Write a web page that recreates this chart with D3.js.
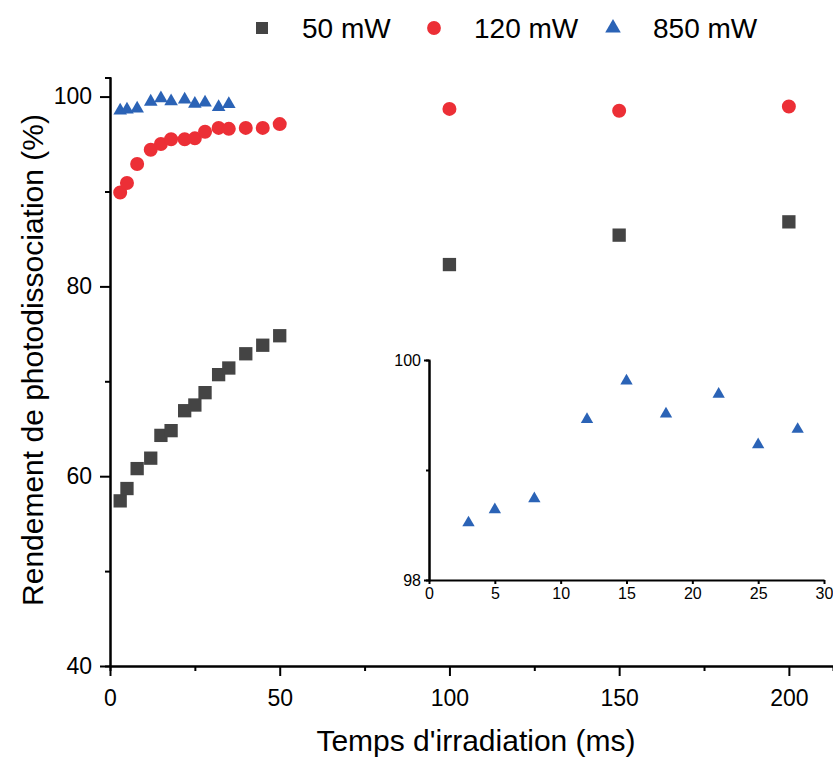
<!DOCTYPE html>
<html>
<head>
<meta charset="utf-8">
<script src="https://cdn.jsdelivr.net/npm/d3@7"></script>
<style>
  html, body { margin: 0; padding: 0; background: #fff; }
  svg { display: block; font-family: Arial, "Liberation Sans", sans-serif; }
</style>
</head>
<body>
<svg id="chart" width="833" height="758"></svg>
<script>
// ---- Data ----
const times = [3, 5, 8, 12, 15, 18, 22, 25, 28, 32, 35, 40, 45, 50, 100, 150, 200];
const values50 = [57.4, 58.7, 60.8, 61.9, 64.3, 64.8, 66.9, 67.5, 68.8, 70.7, 71.4, 72.9, 73.8, 74.8, 82.3, 85.4, 86.8];
const values120 = [89.9, 90.9, 92.9, 94.4, 95.0, 95.5, 95.5, 95.6, 96.3, 96.7, 96.6, 96.7, 96.7, 97.1, 98.7, 98.5, 98.95];
const times850 = [3, 5, 8, 12, 15, 18, 22, 25, 28, 32, 35];
const values850 = [98.52, 98.64, 98.74, 99.46, 99.81, 99.51, 99.69, 99.23, 99.37, 98.9, 99.2];
const seriesNames = ["50 mW", "120 mW", "850 mW"];
const xTicks = [0, 50, 100, 150, 200];
const xMinorTicks = [25, 75, 125, 175];
const yTicks = [40, 60, 80, 100];
const yMinorTicks = [50, 70, 90];
const insetXTicks = [0, 5, 10, 15, 20, 25, 30];
const insetYTicks = [98, 100];
const insetYMinorTicks = [99];
const xLabel = "Temps d'irradiation (ms)";
const yLabel = "Rendement de photodissociation (%)";

const colors = ["#444444", "#ec2f36", "#2b63b6"];

const svg = d3.select("#chart");

// ---- Main scales ----
const x = d3.scaleLinear().domain([0, 213]).range([110, 833]);
const y = d3.scaleLinear().domain([40, 102]).range([666, 77.6]);

const axisStyle = g => {
  g.selectAll("path.domain").attr("stroke", "#000").attr("stroke-width", 2);
  g.selectAll(".tick line").attr("stroke", "#000").attr("stroke-width", 2);
  g.selectAll("text").attr("fill", "#000");
};
const fmt = d3.format("d");

// minor ticks
svg.append("g").attr("transform", "translate(0,666)")
  .call(d3.axisBottom(x).tickValues(xMinorTicks).tickSize(5).tickFormat(""))
  .call(axisStyle);
svg.append("g").attr("transform", "translate(110,0)")
  .call(d3.axisLeft(y).tickValues(yMinorTicks).tickSize(5).tickFormat(""))
  .call(axisStyle);

// major axes
svg.append("g").attr("transform", "translate(0,666)")
  .call(d3.axisBottom(x).tickValues(xTicks).tickFormat(fmt).tickSize(10).tickPadding(14).tickSizeOuter(0))
  .call(axisStyle)
  .call(g => g.selectAll("text").attr("font-size", 23).attr("font-family", "Arial, 'Liberation Sans', sans-serif"));
svg.append("g").attr("transform", "translate(110,0)")
  .call(d3.axisLeft(y).tickValues(yTicks).tickFormat(fmt).tickSize(10).tickPadding(8).tickSizeOuter(0))
  .call(axisStyle)
  .call(g => g.selectAll("text").attr("font-size", 23).attr("font-family", "Arial, 'Liberation Sans', sans-serif"));

// axis titles
svg.append("text")
  .attr("x", 476).attr("y", 751)
  .attr("text-anchor", "middle")
  .attr("font-size", 30)
  .text(xLabel);
svg.append("text")
  .attr("transform", "translate(43,360) rotate(-90)")
  .attr("text-anchor", "middle")
  .attr("font-size", 30)
  .text(yLabel);

// ---- Main markers ----
const sq = d3.symbol().type(d3.symbolSquare).size(177);
const ci = d3.symbol().type(d3.symbolCircle).size(154);
const tri = d3.symbol().type(d3.symbolTriangle).size(80);
const triSmall = d3.symbol().type(d3.symbolTriangle).size(66);

const data50 = times.map((t, i) => ({t, v: values50[i]}));
const data120 = times.map((t, i) => ({t, v: values120[i]}));
const data850 = times850.map((t, i) => ({t, v: values850[i]}));

svg.append("g").selectAll("path").data(data50).join("path")
  .attr("d", sq).attr("fill", colors[0])
  .attr("transform", d => `translate(${x(d.t)},${y(d.v)})`);
svg.append("g").selectAll("path").data(data120).join("path")
  .attr("d", ci).attr("fill", colors[1])
  .attr("transform", d => `translate(${x(d.t)},${y(d.v)})`);
svg.append("g").selectAll("path").data(data850).join("path")
  .attr("d", tri).attr("fill", colors[2])
  .attr("transform", d => `translate(${x(d.t)},${y(d.v)})`);

// ---- Inset ----
const xi = d3.scaleLinear().domain([0, 30]).range([429, 824]);
const yi = d3.scaleLinear().domain([98, 100]).range([580, 360]);

svg.append("g").attr("transform", "translate(429,0)")
  .call(d3.axisLeft(yi).tickValues(insetYMinorTicks).tickSize(3).tickFormat(""))
  .call(axisStyle);
svg.append("g").attr("transform", "translate(0,580)")
  .call(d3.axisBottom(xi).tickValues(insetXTicks).tickFormat(fmt).tickSize(4).tickPadding(4).tickSizeOuter(0))
  .call(axisStyle)
  .call(g => g.selectAll("text").attr("font-size", 16).attr("font-family", "Arial, 'Liberation Sans', sans-serif"));
svg.append("g").attr("transform", "translate(429,0)")
  .call(d3.axisLeft(yi).tickValues(insetYTicks).tickFormat(fmt).tickSize(5).tickPadding(3).tickSizeOuter(0))
  .call(axisStyle)
  .call(g => g.selectAll("text").attr("font-size", 16).attr("font-family", "Arial, 'Liberation Sans', sans-serif"));

svg.append("g").selectAll("path").data(data850.filter(d => d.t <= 30)).join("path")
  .attr("d", triSmall).attr("fill", colors[2])
  .attr("transform", d => `translate(${xi(d.t)},${yi(d.v)})`);

// ---- Legend ----
const legendItems = [
  {name: seriesNames[0], sym: d3.symbol().type(d3.symbolSquare).size(144), color: colors[0], mx: 262, tx: 302},
  {name: seriesNames[1], sym: d3.symbol().type(d3.symbolCircle).size(150), color: colors[1], mx: 434, tx: 474},
  {name: seriesNames[2], sym: d3.symbol().type(d3.symbolTriangle).size(105), color: colors[2], mx: 613, tx: 653}
];
const lg = svg.append("g");
legendItems.forEach(it => {
  lg.append("path").attr("d", it.sym).attr("fill", it.color)
    .attr("transform", `translate(${it.mx},28)`);
  lg.append("text").attr("x", it.tx).attr("y", 38)
    .attr("font-size", 28).attr("fill", "#000").text(it.name);
});
</script>
</body>
</html>
